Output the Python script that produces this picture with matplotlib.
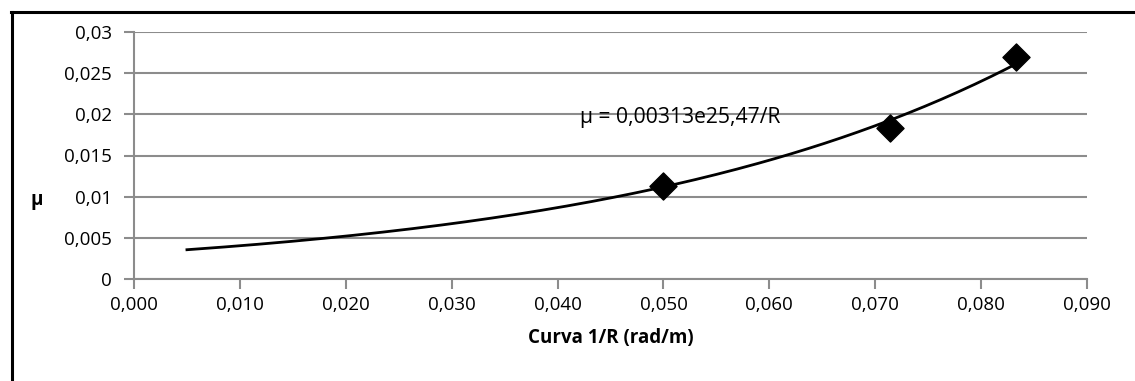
import numpy as np
from matplotlib import pyplot as plt
from matplotlib.ticker import FuncFormatter, MultipleLocator
from matplotlib.lines import Line2D

# measured points
curve_x = [1 / 20, 1 / 14, 1 / 12]
mu_y = [0.0113, 0.0183, 0.0270]

# exponential trend shown on the chart: mu = a * e^(b/R)
trend_a = 0.00313
trend_b = 25.47
trend_start = 0.005
trend_label = "μ = 0,00313e25,47/R"

plt.rcParams['font.family'] = ['Open Sans', 'DejaVu Sans']

fig = plt.figure(figsize=(11.35, 3.81), dpi=100)
ax = fig.add_axes([134 / 1135, 1 - 279 / 381, (1087 - 134) / 1135, (279 - 32) / 381])

grey = "#8c8c8c"
ax.set_xlim(0, 0.09)
ax.set_ylim(0, 0.03)
ax.xaxis.set_major_locator(MultipleLocator(0.01))
ax.yaxis.set_major_locator(MultipleLocator(0.005))
ax.yaxis.grid(True, color=grey, linewidth=1.5)
ax.set_axisbelow(True)

for side in ["top", "right"]:
    ax.spines[side].set_visible(False)
for side in ["left", "bottom"]:
    ax.spines[side].set_color(grey)
    ax.spines[side].set_linewidth(1.5)
ax.tick_params(colors=grey, width=1.5, length=7, labelcolor="black", labelsize=13.5)
ax.tick_params(axis="x", pad=5)
ax.tick_params(axis="y", pad=9)

ax.xaxis.set_major_formatter(FuncFormatter(lambda v, p: f"{v:.3f}".replace(".", ",")))
ax.yaxis.set_major_formatter(FuncFormatter(lambda v, p: ("0" if abs(v) < 1e-12 else f"{v:g}").replace(".", ",")))

xs = np.linspace(trend_start, max(curve_x), 200)
ax.plot(xs, trend_a * np.exp(trend_b * xs), color="black", linewidth=2, zorder=3)
ax.scatter(curve_x, mu_y, marker="D", s=190, color="black", zorder=4)

ax.text(0.0421, 0.0196, trend_label, fontsize=15.2, va="center", ha="left")

ax.set_xlabel("Curva 1/R (rad/m)", fontsize=13.5, fontweight="bold", labelpad=10)
fig.text(37 / 1135, 1 - 200 / 381, "μ", fontsize=13.5, fontweight="bold", ha="center", va="center")

# frame of the chart area (only left and top edges visible)
fig.add_artist(Line2D([11.5 / 1135, 11.5 / 1135], [0, 1 - 12 / 381], color="black", linewidth=2.2))
fig.add_artist(Line2D([11 / 1135, 1], [1 - 12 / 381, 1 - 12 / 381], color="black", linewidth=2.2))

fig.savefig("out.png", dpi=100)
